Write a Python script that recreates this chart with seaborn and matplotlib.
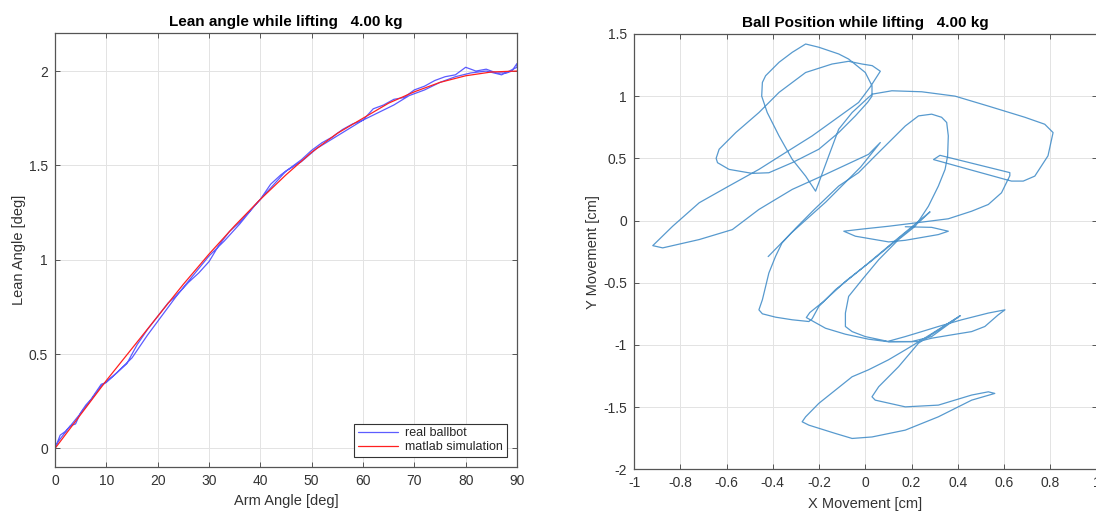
import numpy as np
import pandas as pd
import matplotlib
matplotlib.use("Agg")
import matplotlib.pyplot as plt
import seaborn as sns

# ---------------- data: left panel ----------------
sim_arm = [0, 5, 10, 15, 20, 25, 30, 35, 40, 45, 50, 55, 60, 65, 70, 75, 80, 85, 90]
sim_lean = [0.0, 0.18, 0.36, 0.53, 0.70, 0.87, 1.03, 1.18, 1.32, 1.45, 1.57, 1.67,
            1.75, 1.83, 1.89, 1.94, 1.975, 1.995, 2.0]

real_arm = [0, 1, 2, 3, 4, 5, 6, 7, 8, 9, 10, 12, 14, 16, 18, 20, 22, 24, 26, 28, 30,
            32, 34, 36, 38, 40, 42, 44, 46, 48, 50, 52, 54, 56, 58, 60, 62, 64, 66, 68,
            70, 72, 74, 76, 78, 80, 82, 84, 86, 88, 89, 90,
            90, 87, 84, 81, 78, 75, 72, 69, 66, 63, 60, 57, 54, 51, 48, 45, 42, 39,
            36, 33, 30, 27, 24, 21, 18, 15, 12, 9, 6, 3, 1, 0]
real_lean = [0.0, 0.07, 0.09, 0.12, 0.13, 0.19, 0.23, 0.26, 0.30, 0.34, 0.35, 0.40,
             0.45, 0.55, 0.63, 0.70, 0.77, 0.82, 0.88, 0.93, 0.99, 1.08, 1.15, 1.20,
             1.26, 1.32, 1.40, 1.45, 1.49, 1.53, 1.58, 1.62, 1.65, 1.69, 1.72, 1.74,
             1.80, 1.82, 1.85, 1.86, 1.90, 1.92, 1.95, 1.97, 1.98, 2.02, 2.00, 2.01,
             1.99, 1.99, 2.00, 2.04,
             2.02, 1.98, 2.00, 1.99, 1.97, 1.94, 1.90, 1.87, 1.82, 1.78, 1.74, 1.69,
             1.64, 1.59, 1.52, 1.47, 1.38, 1.29, 1.19, 1.10, 1.02, 0.92, 0.82, 0.71,
             0.60, 0.48, 0.40, 0.33, 0.22, 0.12, 0.05, 0.01]

# ---------------- data: right panel (two traced strokes) ----------------
ball_x_a = [-0.42, -0.32, -0.17, -0.02, 0.065,
            0.014, -0.172, -0.316, -0.46, -0.575, -0.718, -0.876, -0.919,
            -0.833, -0.718, -0.59, -0.46, -0.345, -0.23, -0.129, -0.029, 0.02, 0.065,
            0.03, -0.014, -0.072, -0.144, -0.258, -0.373, -0.46, -0.56, -0.632, -0.645, -0.639,
            -0.589, -0.489, -0.417, -0.316, -0.201, -0.115, -0.043, 0.01, 0.029,
            0.029, 0.0, -0.072, -0.115, -0.201, -0.258, -0.316, -0.373, -0.431, -0.445,
            -0.448, -0.424, -0.373, -0.316, -0.258, -0.215, -0.201, -0.158, -0.115, -0.057,
            0.014, 0.03,
            0.115, 0.244, 0.388, 0.532, 0.69, 0.776, 0.812, 0.79, 0.733, 0.683, 0.632, 0.604,
            0.45, 0.295, 0.323, 0.625,
            0.625, 0.589, 0.532, 0.46, 0.359, 0.244, 0.101, -0.02, -0.093,
            -0.043, 0.101, 0.173, 0.316, 0.359, 0.287, 0.173]
ball_y_a = [-0.29, -0.10, 0.15, 0.43, 0.627,
            0.532, 0.371, 0.25, 0.089, -0.073, -0.153, -0.22, -0.202,
            -0.046, 0.143, 0.277, 0.411, 0.546, 0.68, 0.815, 0.949, 1.07, 1.20,
            1.245, 1.258, 1.28, 1.258, 1.19, 1.03, 0.868, 0.707, 0.573, 0.50, 0.465,
            0.411, 0.379, 0.384, 0.465, 0.573, 0.707, 0.841, 0.95, 1.0,
            1.083, 1.19, 1.298, 1.339, 1.393, 1.419, 1.352, 1.272, 1.164, 1.11,
            1.0, 0.868, 0.68, 0.492, 0.357, 0.236, 0.304, 0.52, 0.734, 0.868,
            0.99, 1.016,
            1.043, 1.035, 1.0, 0.92, 0.83, 0.774, 0.707, 0.52, 0.357, 0.317, 0.317, 0.331,
            0.41, 0.49, 0.524, 0.385,
            0.36, 0.223, 0.129, 0.075, 0.014, -0.013, -0.046, -0.07, -0.086,
            -0.126, -0.172, -0.159, -0.113, -0.086, -0.055, -0.05]

ball_x_b = [0.41, 0.23, 0.144, 0.058, 0.029, 0.043, 0.173, 0.316, 0.46, 0.532, 0.56,
            0.46, 0.316, 0.173, 0.029, -0.057, -0.129, -0.244, -0.273, -0.258, -0.201,
            -0.129, -0.057, 0.014, 0.10, 0.173, 0.244, 0.33, 0.41,
            0.287, 0.201, 0.101, 0.0, -0.057, -0.086, -0.086, -0.072, -0.014, 0.058,
            0.144, 0.216, 0.273, 0.316, 0.345, 0.356, 0.359, 0.352, 0.33, 0.287, 0.23,
            0.173, 0.101, 0.043, -0.029, -0.115, -0.22, -0.30, -0.36, -0.388, -0.417,
            -0.431, -0.445, -0.46, -0.445, -0.388, -0.316, -0.244, -0.23,
            -0.201, -0.129, -0.057, 0.014, 0.13, 0.28,
            0.24, 0.14, 0.03, -0.08, -0.18, -0.24, -0.255,
            -0.172, -0.086, 0.014, 0.101, 0.23, 0.287, 0.374, 0.46, 0.517, 0.575, 0.604,
            0.532, 0.417, 0.316, 0.244, 0.173, 0.101]
ball_y_b = [-0.766, -0.986, -1.175, -1.336, -1.417, -1.444, -1.498, -1.484, -1.403, -1.377, -1.39,
            -1.444, -1.578, -1.685, -1.74, -1.752, -1.712, -1.645, -1.618, -1.578, -1.47,
            -1.363, -1.256, -1.2, -1.12, -1.04, -0.96, -0.86, -0.766,
            -0.933, -0.973, -0.973, -0.933, -0.893, -0.852, -0.744, -0.61, -0.476, -0.315,
            -0.153, -0.046, 0.115, 0.277, 0.411, 0.52, 0.68, 0.788, 0.83, 0.855, 0.841,
            0.76, 0.627, 0.52, 0.385, 0.277, 0.09, -0.06, -0.18, -0.288, -0.422,
            -0.53, -0.637, -0.718, -0.75, -0.777, -0.798, -0.812, -0.79,
            -0.691, -0.556, -0.449, -0.341, -0.16, 0.07,
            0.0, -0.15, -0.32, -0.48, -0.65, -0.74, -0.78,
            -0.866, -0.914, -0.954, -0.975, -0.973, -0.946, -0.919, -0.893, -0.852, -0.758, -0.718,
            -0.744, -0.798, -0.852, -0.893, -0.933, -0.97]

left_xticks = [0, 10, 20, 30, 40, 50, 60, 70, 80, 90]
left_yticks = [0, 0.5, 1, 1.5, 2]
right_xticks = [-1, -0.8, -0.6, -0.4, -0.2, 0, 0.2, 0.4, 0.6, 0.8, 1]
right_yticks = [-2, -1.5, -1, -0.5, 0, 0.5, 1, 1.5]

# ---------------- style ----------------
sns.set_theme(style="white")
plt.rcParams['font.family'] = ['Liberation Sans', 'DejaVu Sans']
plt.rcParams['axes.unicode_minus'] = False
plt.rcParams.update({
    'axes.edgecolor': '#555555',
    'axes.linewidth': 0.9,
    'xtick.direction': 'in', 'ytick.direction': 'in',
    'xtick.top': True, 'ytick.right': True,
    'xtick.bottom': True, 'ytick.left': True,
    'xtick.major.size': 3.5, 'ytick.major.size': 3.5,
    'xtick.major.width': 0.7, 'ytick.major.width': 0.7,
    'xtick.color': '#555555', 'ytick.color': '#555555',
    'xtick.labelcolor': '#333333', 'ytick.labelcolor': '#333333',
    'xtick.labelsize': 10, 'ytick.labelsize': 10,
})

fig = plt.figure(figsize=(10.96, 5.11), dpi=100)
fig.patch.set_facecolor('white')
ax1 = fig.add_axes([0.0502, 0.0855, 0.4215, 0.8493])
ax2 = fig.add_axes([0.5785, 0.0816, 0.4220, 0.852])

df_real = pd.DataFrame({'arm': real_arm, 'lean': real_lean})
df_sim = pd.DataFrame({'arm': sim_arm, 'lean': sim_lean})
sns.lineplot(data=df_real, x='arm', y='lean', sort=False, estimator=None,
             color='#3333ff', linewidth=0.9, alpha=0.8, ax=ax1, label='real ballbot')
sns.lineplot(data=df_sim, x='arm', y='lean', sort=False, estimator=None,
             color='#ff2020', linewidth=0.9, ax=ax1, label='matlab simulation')

df_ball = pd.DataFrame({
    'x': ball_x_a + ball_x_b,
    'y': ball_y_a + ball_y_b,
    'seg': ['a'] * len(ball_x_a) + ['b'] * len(ball_x_b),
})
sns.lineplot(data=df_ball, x='x', y='y', units='seg', estimator=None, sort=False,
             color='#3a88c6', linewidth=0.9, alpha=0.85, ax=ax2, legend=False)

def style(ax, xt, yt, xlim, ylim):
    ax.set_xlim(*xlim)
    ax.set_ylim(*ylim)
    ax.set_xticks(xt)
    ax.set_yticks(yt)
    ax.set_xticklabels([f"{v:g}" for v in xt])
    ax.set_yticklabels([f"{v:g}" for v in yt])
    ax.grid(True, color='#e3e3e3', linewidth=0.7)
    ax.set_axisbelow(True)
    for s in ax.spines.values():
        s.set_visible(True)
        s.set_color('#555555')
    ax.tick_params(axis='both', which='major', pad=5)

style(ax1, left_xticks, left_yticks, (0, 90), (-0.1, 2.2))
style(ax2, right_xticks, right_yticks, (-1, 1), (-2, 1.5))

ax1.set_title("Lean angle while lifting   4.00 kg", fontweight='bold', fontsize=11, pad=5, color='black')
ax2.set_title("Ball Position while lifting   4.00 kg", fontweight='bold', fontsize=11, pad=5, color='black')
ax1.set_xlabel("Arm Angle [deg]", fontsize=10.5, color='#333333', labelpad=4)
ax1.set_ylabel("Lean Angle [deg]", fontsize=10.5, color='#333333', labelpad=2)
ax2.set_xlabel("X Movement [cm]", fontsize=10.5, color='#333333', labelpad=5)
ax2.set_ylabel("Y Movement [cm]", fontsize=10.5, color='#333333', labelpad=2)

leg = ax1.legend(loc='lower right', bbox_to_anchor=(0.978, 0.024), borderaxespad=0,
                 fontsize=9, frameon=True, fancybox=False, framealpha=1,
                 handlelength=3.2, borderpad=0.3, labelspacing=0.15, handletextpad=0.6)
leg.get_frame().set_edgecolor('#333333')
leg.get_frame().set_linewidth(0.8)

fig.savefig("out.png", dpi=100, facecolor='white')
